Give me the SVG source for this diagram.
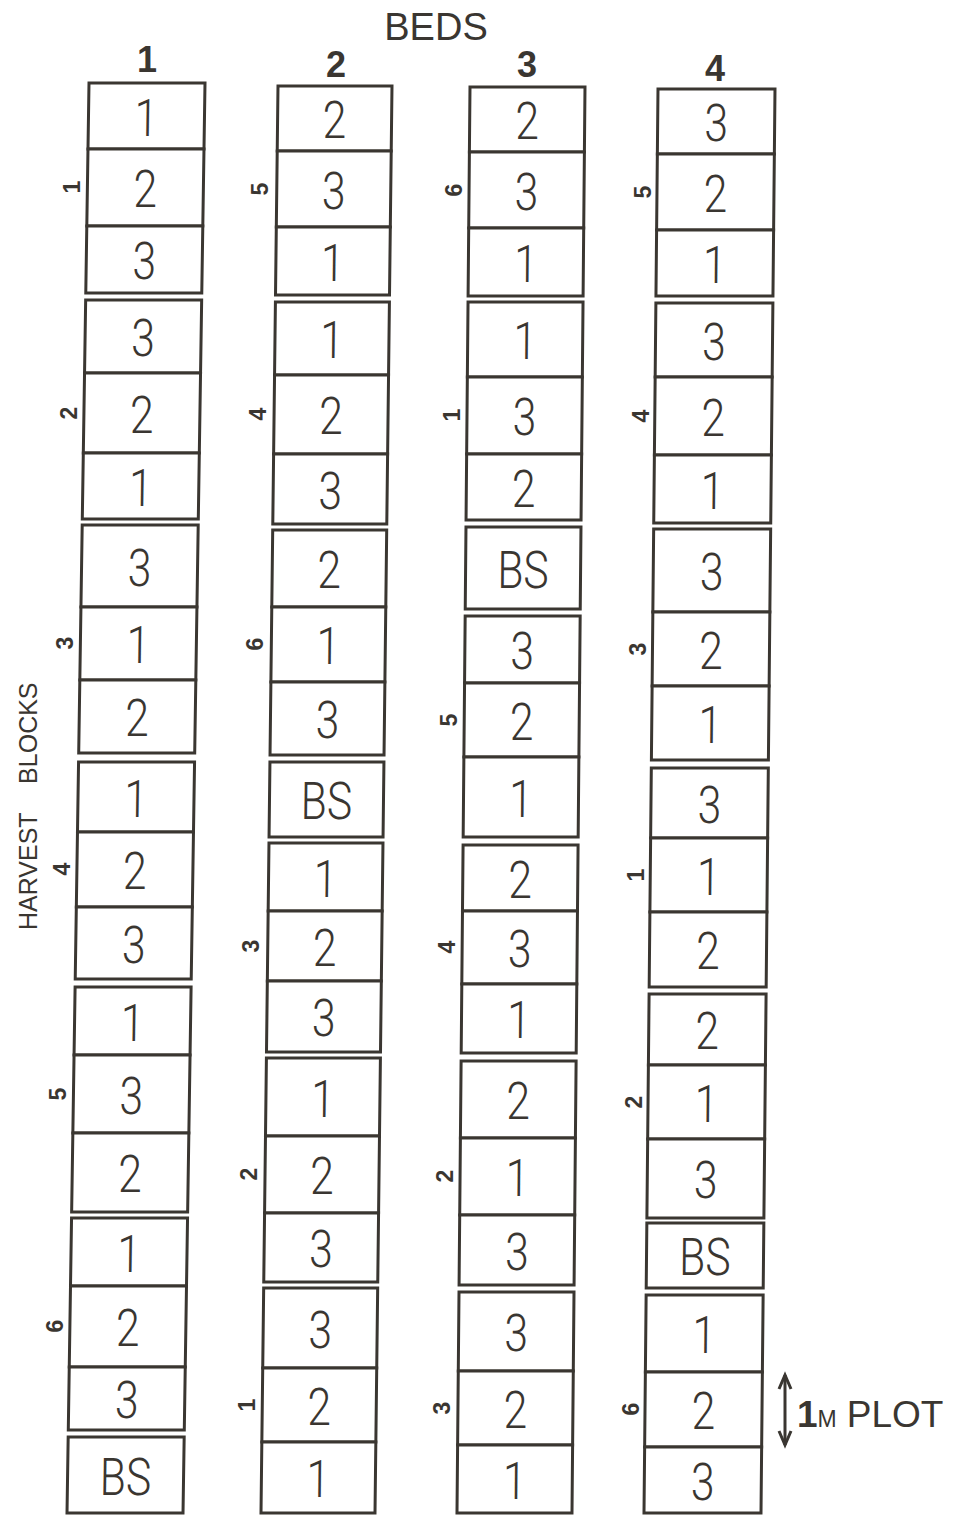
<svg xmlns="http://www.w3.org/2000/svg" width="959" height="1518" viewBox="0 0 959 1518">
<style>
.plot rect{fill:#fff;stroke:#3a3631;stroke-width:3}
.plot text{font-family:Roboto,"Liberation Sans",sans-serif;font-weight:300;font-size:52px;fill:#3a3631;text-anchor:middle;transform-box:fill-box;transform-origin:center;transform:scaleX(0.82)}
.blk{font-family:"Liberation Sans",Arial,sans-serif;font-weight:bold;font-size:23px;fill:#3a3631;text-anchor:middle;dominant-baseline:central}
.hd{font-family:"Liberation Sans",Arial,sans-serif;fill:#3a3631;text-anchor:middle}
.num{font-family:"Liberation Sans",Arial,sans-serif;font-weight:bold;font-size:36px;fill:#3a3631;text-anchor:middle}
.conn{stroke:#3a3631;stroke-width:3;fill:none}
</style>
<defs>
<marker id="arr" markerUnits="userSpaceOnUse" viewBox="-16 -8 18 16" markerWidth="18" markerHeight="16" refX="0" refY="0" orient="auto-start-reverse" overflow="visible">
<path d="M-14,-6 L0,0 L-14,6" fill="none" stroke="#3a3631" stroke-width="3"/>
</marker>
</defs>
<rect width="959" height="1518" fill="#fff"/>

<g id="title">
<text class="hd" x="436" y="40" font-size="38">BEDS</text>
<text class="num" x="147" y="72">1</text>
<text class="num" x="336" y="77">2</text>
<text class="num" x="527" y="77">3</text>
<text class="num" x="715" y="81">4</text>
</g>

<g id="axis-label">
<text class="hd" font-size="25" word-spacing="22" style="text-anchor:start" transform="translate(37,930) rotate(-90)">HARVEST BLOCKS</text>
</g>

<g id="bed1" transform="matrix(1 0 -0.01538 1 90.28 0)">
<g id="b1p1" class="plot"><rect x="0" y="83" width="116" height="66"/><text x="58" y="136">1</text></g>
<g id="b1p2" class="plot"><rect x="0" y="149" width="116" height="77"/><text x="58" y="207.5">2</text></g>
<g id="b1p3" class="plot"><rect x="0" y="226" width="116" height="67"/><text x="58" y="279.5">3</text></g>
<g id="b1p4" class="plot"><rect x="0" y="300" width="116" height="73"/><text x="58" y="356.5">3</text></g>
<g id="b1p5" class="plot"><rect x="0" y="373" width="116" height="80"/><text x="58" y="433">2</text></g>
<g id="b1p6" class="plot"><rect x="0" y="453" width="116" height="66"/><text x="58" y="506">1</text></g>
<g id="b1p7" class="plot"><rect x="0" y="525" width="116" height="82"/><text x="58" y="586">3</text></g>
<g id="b1p8" class="plot"><rect x="0" y="607" width="116" height="73"/><text x="58" y="663.5">1</text></g>
<g id="b1p9" class="plot"><rect x="0" y="680" width="116" height="73"/><text x="58" y="736.5">2</text></g>
<g id="b1p10" class="plot"><rect x="0" y="762" width="116" height="70"/><text x="58" y="817">1</text></g>
<g id="b1p11" class="plot"><rect x="0" y="832" width="116" height="75"/><text x="58" y="889.5">2</text></g>
<g id="b1p12" class="plot"><rect x="0" y="907" width="116" height="72"/><text x="58" y="963">3</text></g>
<g id="b1p13" class="plot"><rect x="0" y="987" width="116" height="68"/><text x="58" y="1041">1</text></g>
<g id="b1p14" class="plot"><rect x="0" y="1055" width="116" height="78"/><text x="58" y="1114">3</text></g>
<g id="b1p15" class="plot"><rect x="0" y="1133" width="116" height="79"/><text x="58" y="1192.5">2</text></g>
<g id="b1p16" class="plot"><rect x="0" y="1218" width="116" height="68"/><text x="58" y="1272">1</text></g>
<g id="b1p17" class="plot"><rect x="0" y="1286" width="116" height="81"/><text x="58" y="1346.5">2</text></g>
<g id="b1p18" class="plot"><rect x="0" y="1367" width="116" height="63"/><text x="58" y="1418.5">3</text></g>
<g id="b1p19" class="plot"><rect x="0" y="1437" width="116" height="76"/><text x="58" y="1495">BS</text></g>
</g>

<g id="bed2" transform="matrix(1 0 -0.01191 1 279.02 0)">
<g id="b2p1" class="plot"><rect x="0" y="86" width="114" height="65"/><text x="57" y="138.5">2</text></g>
<g id="b2p2" class="plot"><rect x="0" y="151" width="114" height="76"/><text x="57" y="209">3</text></g>
<g id="b2p3" class="plot"><rect x="0" y="227" width="114" height="68"/><text x="57" y="281">1</text></g>
<g id="b2p4" class="plot"><rect x="0" y="302" width="114" height="73"/><text x="57" y="358.5">1</text></g>
<g id="b2p5" class="plot"><rect x="0" y="375" width="114" height="79"/><text x="57" y="434.5">2</text></g>
<g id="b2p6" class="plot"><rect x="0" y="454" width="114" height="70"/><text x="57" y="509">3</text></g>
<g id="b2p7" class="plot"><rect x="0" y="530" width="114" height="77"/><text x="57" y="588.5">2</text></g>
<g id="b2p8" class="plot"><rect x="0" y="607" width="114" height="75"/><text x="57" y="664.5">1</text></g>
<g id="b2p9" class="plot"><rect x="0" y="682" width="114" height="73"/><text x="57" y="738.5">3</text></g>
<g id="b2p10" class="plot"><rect x="0" y="762" width="114" height="75"/><text x="57" y="819.5">BS</text></g>
<g id="b2p11" class="plot"><rect x="0" y="843" width="114" height="68"/><text x="57" y="897">1</text></g>
<g id="b2p12" class="plot"><rect x="0" y="911" width="114" height="70"/><text x="57" y="966">2</text></g>
<g id="b2p13" class="plot"><rect x="0" y="981" width="114" height="71"/><text x="57" y="1036.5">3</text></g>
<g id="b2p14" class="plot"><rect x="0" y="1058" width="114" height="78"/><text x="57" y="1117">1</text></g>
<g id="b2p15" class="plot"><rect x="0" y="1136" width="114" height="77"/><text x="57" y="1194.5">2</text></g>
<g id="b2p16" class="plot"><rect x="0" y="1213" width="114" height="69"/><text x="57" y="1267.5">3</text></g>
<g id="b2p17" class="plot"><rect x="0" y="1288" width="114" height="80"/><text x="57" y="1348">3</text></g>
<g id="b2p18" class="plot"><rect x="0" y="1368" width="114" height="74"/><text x="57" y="1425">2</text></g>
<g id="b2p19" class="plot"><rect x="0" y="1442" width="114" height="71"/><text x="57" y="1497.5">1</text></g>
</g>

<g id="bed3" transform="matrix(1 0 -0.00912 1 470.79 0)">
<g id="b3p1" class="plot"><rect x="0" y="87" width="115" height="65"/><text x="57.5" y="139.5">2</text></g>
<g id="b3p2" class="plot"><rect x="0" y="152" width="115" height="76"/><text x="57.5" y="210">3</text></g>
<g id="b3p3" class="plot"><rect x="0" y="228" width="115" height="68"/><text x="57.5" y="282">1</text></g>
<g id="b3p4" class="plot"><rect x="0" y="302" width="115" height="75"/><text x="57.5" y="359.5">1</text></g>
<g id="b3p5" class="plot"><rect x="0" y="377" width="115" height="77"/><text x="57.5" y="435.5">3</text></g>
<g id="b3p6" class="plot"><rect x="0" y="454" width="115" height="66"/><text x="57.5" y="507">2</text></g>
<g id="b3p7" class="plot"><rect x="0" y="527" width="115" height="82"/><text x="57.5" y="588">BS</text></g>
<g id="b3p8" class="plot"><rect x="0" y="616" width="115" height="67"/><text x="57.5" y="669.5">3</text></g>
<g id="b3p9" class="plot"><rect x="0" y="683" width="115" height="74"/><text x="57.5" y="740">2</text></g>
<g id="b3p10" class="plot"><rect x="0" y="757" width="115" height="80"/><text x="57.5" y="817">1</text></g>
<g id="b3p11" class="plot"><rect x="0" y="845" width="115" height="66"/><text x="57.5" y="898">2</text></g>
<g id="b3p12" class="plot"><rect x="0" y="911" width="115" height="73"/><text x="57.5" y="967.5">3</text></g>
<g id="b3p13" class="plot"><rect x="0" y="984" width="115" height="69"/><text x="57.5" y="1038.5">1</text></g>
<g id="b3p14" class="plot"><rect x="0" y="1061" width="115" height="77"/><text x="57.5" y="1119.5">2</text></g>
<g id="b3p15" class="plot"><rect x="0" y="1138" width="115" height="77"/><text x="57.5" y="1196.5">1</text></g>
<g id="b3p16" class="plot"><rect x="0" y="1215" width="115" height="70"/><text x="57.5" y="1270">3</text></g>
<g id="b3p17" class="plot"><rect x="0" y="1292" width="115" height="79"/><text x="57.5" y="1351.5">3</text></g>
<g id="b3p18" class="plot"><rect x="0" y="1371" width="115" height="74"/><text x="57.5" y="1428">2</text></g>
<g id="b3p19" class="plot"><rect x="0" y="1445" width="115" height="68"/><text x="57.5" y="1499">1</text></g>
</g>

<g id="bed4" transform="matrix(1 0 -0.00983 1 658.87 0)">
<g id="b4p1" class="plot"><rect x="0" y="89" width="117" height="65"/><text x="58.5" y="141.5">3</text></g>
<g id="b4p2" class="plot"><rect x="0" y="154" width="117" height="76"/><text x="58.5" y="212">2</text></g>
<g id="b4p3" class="plot"><rect x="0" y="230" width="117" height="66"/><text x="58.5" y="283">1</text></g>
<g id="b4p4" class="plot"><rect x="0" y="303" width="117" height="74"/><text x="58.5" y="360">3</text></g>
<g id="b4p5" class="plot"><rect x="0" y="377" width="117" height="78"/><text x="58.5" y="436">2</text></g>
<g id="b4p6" class="plot"><rect x="0" y="455" width="117" height="68"/><text x="58.5" y="509">1</text></g>
<g id="b4p7" class="plot"><rect x="0" y="529" width="117" height="83"/><text x="58.5" y="590.5">3</text></g>
<g id="b4p8" class="plot"><rect x="0" y="612" width="117" height="74"/><text x="58.5" y="669">2</text></g>
<g id="b4p9" class="plot"><rect x="0" y="686" width="117" height="74"/><text x="58.5" y="743">1</text></g>
<g id="b4p10" class="plot"><rect x="0" y="768" width="117" height="70"/><text x="58.5" y="823">3</text></g>
<g id="b4p11" class="plot"><rect x="0" y="838" width="117" height="74"/><text x="58.5" y="895">1</text></g>
<g id="b4p12" class="plot"><rect x="0" y="912" width="117" height="75"/><text x="58.5" y="969.5">2</text></g>
<g id="b4p13" class="plot"><rect x="0" y="994" width="117" height="71"/><text x="58.5" y="1049.5">2</text></g>
<g id="b4p14" class="plot"><rect x="0" y="1065" width="117" height="74"/><text x="58.5" y="1122">1</text></g>
<g id="b4p15" class="plot"><rect x="0" y="1139" width="117" height="79"/><text x="58.5" y="1198.5">3</text></g>
<g id="b4p16" class="plot"><rect x="0" y="1223" width="117" height="65"/><text x="58.5" y="1275.5">BS</text></g>
<g id="b4p17" class="plot"><rect x="0" y="1295" width="117" height="77"/><text x="58.5" y="1353.5">1</text></g>
<g id="b4p18" class="plot"><rect x="0" y="1372" width="117" height="75"/><text x="58.5" y="1429.5">2</text></g>
<g id="b4p19" class="plot"><rect x="0" y="1447" width="117" height="66"/><text x="58.5" y="1500">3</text></g>
</g>

<g id="harvest-blocks">
<text class="blk" x="72" y="187" transform="rotate(-90 72 187)">1</text>
<text class="blk" x="69" y="413" transform="rotate(-90 69 413)">2</text>
<text class="blk" x="65" y="643" transform="rotate(-90 65 643)">3</text>
<text class="blk" x="62" y="869" transform="rotate(-90 62 869)">4</text>
<text class="blk" x="58" y="1094" transform="rotate(-90 58 1094)">5</text>
<text class="blk" x="55" y="1326" transform="rotate(-90 55 1326)">6</text>
<text class="blk" x="260" y="189" transform="rotate(-90 260 189)">5</text>
<text class="blk" x="258" y="414" transform="rotate(-90 258 414)">4</text>
<text class="blk" x="255" y="644" transform="rotate(-90 255 644)">6</text>
<text class="blk" x="251" y="946" transform="rotate(-90 251 946)">3</text>
<text class="blk" x="249" y="1174" transform="rotate(-90 249 1174)">2</text>
<text class="blk" x="247" y="1405" transform="rotate(-90 247 1405)">1</text>
<text class="blk" x="454" y="190" transform="rotate(-90 454 190)">6</text>
<text class="blk" x="452" y="415" transform="rotate(-90 452 415)">1</text>
<text class="blk" x="449" y="720" transform="rotate(-90 449 720)">5</text>
<text class="blk" x="447" y="947" transform="rotate(-90 447 947)">4</text>
<text class="blk" x="445" y="1176" transform="rotate(-90 445 1176)">2</text>
<text class="blk" x="442" y="1408" transform="rotate(-90 442 1408)">3</text>
<text class="blk" x="643" y="192" transform="rotate(-90 643 192)">5</text>
<text class="blk" x="641" y="416" transform="rotate(-90 641 416)">4</text>
<text class="blk" x="638" y="649" transform="rotate(-90 638 649)">3</text>
<text class="blk" x="636" y="875" transform="rotate(-90 636 875)">1</text>
<text class="blk" x="634" y="1102" transform="rotate(-90 634 1102)">2</text>
<text class="blk" x="631" y="1409" transform="rotate(-90 631 1409)">6</text>
</g>

<g id="connectors">
<line class="conn" x1="785" y1="1375" x2="785" y2="1445" marker-start="url(#arr)" marker-end="url(#arr)"/>
</g>

<g id="legend">
<text class="hd" x="797" y="1427" font-size="37" style="text-anchor:start"><tspan font-weight="bold">1</tspan><tspan font-size="23">M</tspan><tspan dx="10">PLOT</tspan></text>
</g>
</svg>
